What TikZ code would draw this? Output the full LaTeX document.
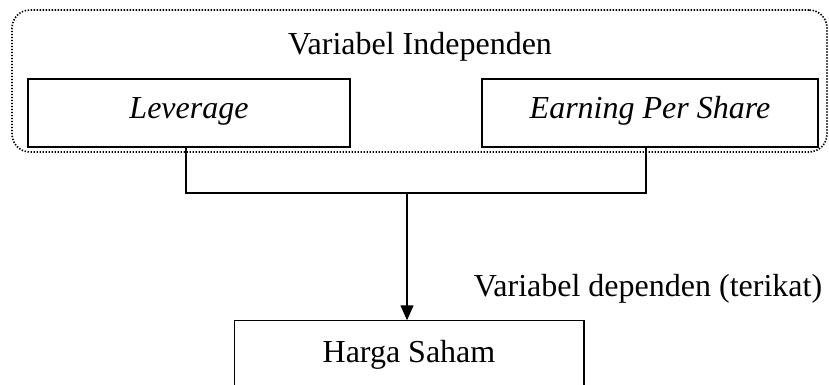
\documentclass[tikz,border=0pt]{standalone}
\usepackage{fontspec}
\setmainfont{Liberation Serif}
\usetikzlibrary{arrows.meta}
\begin{document}
\begin{tikzpicture}[x=1pt,y=-1pt, line width=1.5pt,
  every node/.style={font=\fontsize{32}{38}\selectfont, inner sep=0pt},
  varbox/.style={draw, rectangle, minimum height=68pt, text height=20pt, text depth=8pt},
  grp/.style={draw, rectangle, rounded corners=18pt, line width=1.6pt, dash pattern=on 1.4pt off 1.6pt}]
\useasboundingbox (0,0) rectangle (829,385);
\node[grp, minimum width=815pt, minimum height=142pt] (g) at (419.5,81) {};
\node[anchor=base] (gt) at (420,55) {Variabel Independen};
\node[varbox, minimum width=322pt] (lev) at (189,113) {\itshape Leverage};
\node[varbox, minimum width=336pt] (eps) at (650,113) {\itshape Earning Per Share};
\coordinate (j) at (407,193);
\node[minimum width=348pt, minimum height=64pt, text height=20pt, text depth=2pt] (hs) at (409,353) {Harga Saham};
\draw (hs.south west) -- (hs.north west) -- (hs.north east) -- (hs.south east);
\node[anchor=base] (dt) at (648,296) {Variabel dependen (terikat)};
\draw ([xshift=-3pt]lev.south) |- (j);
\draw ([xshift=-4pt]eps.south) |- (j);
\draw[-{Triangle[length=15pt,width=13pt]}] (j) -- (hs.north -| j);
\end{tikzpicture}
\end{document}
